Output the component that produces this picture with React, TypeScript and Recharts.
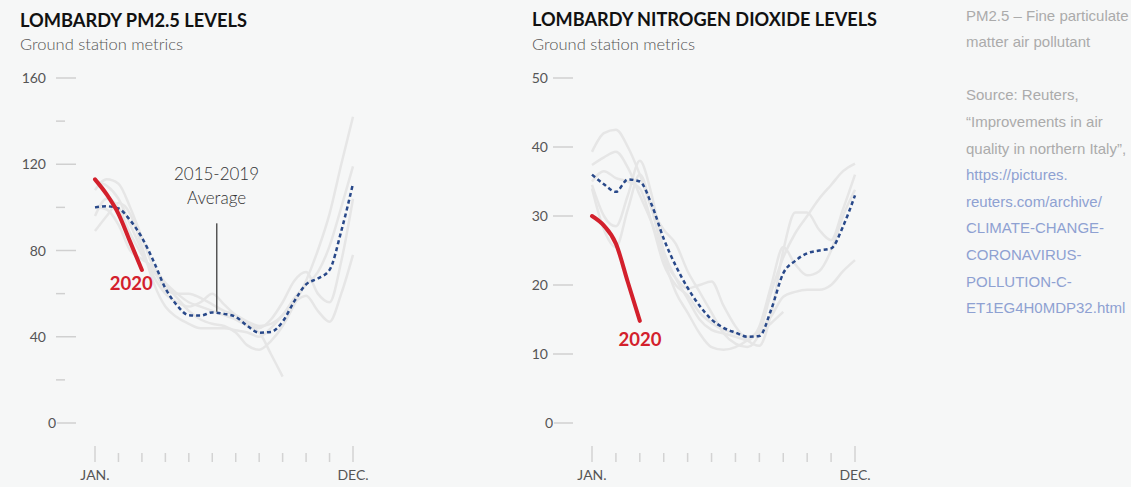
import { LineChart, Line, XAxis, YAxis, ReferenceLine } from "recharts";

// half-month steps, Jan = 0 ... Dec = 11
const STEPS = [0, 0.5, 1, 1.5, 2, 2.5, 3, 3.5, 4, 4.5, 5, 5.5, 6, 6.5, 7, 7.5, 8, 8.5, 9, 9.5, 10, 10.5, 11];
const MONTH_TICKS = [0, 1, 2, 3, 4, 5, 6, 7, 8, 9, 10, 11];
const MONTH_LABELS: Record<number, string> = { 0: "JAN.", 11: "DEC." };

const PM25_TICKS = [0, 20, 40, 60, 80, 100, 120, 140, 160];
const NO2_TICKS = [0, 10, 20, 30, 40, 50];

// PM2.5
const pm25Avg = [100, 100.5, 99.5, 94, 86, 75, 62.5, 54.5, 50, 49.8, 51.3, 50.6, 49.2, 45, 41.9, 42.2, 47, 56.5, 64.3, 67, 71, 89, 111];
const pm25Now = [113, 106, 97, 84, 71];
const pm25Y1 = [96, 104, 100, 88, 78, 70, 64, 58, 52, 48, 46, 45, 42, 36, 34, 38, 45, 55, 66, 80, 97, 120, 142];
const pm25Y2 = [108, 113, 111, 100, 86, 72, 62, 60, 60, 58, 55, 52, 50, 47, 45, 46, 50, 58, 64, 70, 82, 100, 119];
const pm25Y3 = [112, 110, 104, 92, 80, 68, 60, 56, 54, 56, 60, 55, 50, 46, 44, 48, 56, 66, 70, 60, 56, 75, 104];
const pm25Y4 = [89, 96, 102, 97, 82, 65, 54, 49, 46, 44, 44, 44, 43, 42, 40, 44, 50, 56, 59, 52, 47, 60, 78];
const pm25Y5 = [100, 99, 92, 80, 76, 72, 65, 60, 56, 54, 52, 50, 48, 45, 42, 32, 21.5];

// NO2
const no2Avg = [36, 34.6, 33.5, 35.3, 35, 31.6, 26.7, 22.8, 19.6, 17, 15, 13.8, 13.1, 12.5, 12.6, 16.5, 21.7, 23.5, 24.6, 25, 25.3, 28.5, 33];
const no2Now = [30, 28.6, 26, 20.4, 14.8];
const no2Y1 = [39.3, 42, 42.5, 40, 36, 31, 28, 26, 22, 19, 16, 13, 11.5, 11, 13, 19, 24, 27.5, 30, 32.5, 34.5, 36.5, 37.6];
const no2Y2 = [37.4, 38.5, 39.3, 37, 33, 29, 24, 21, 19.5, 20, 20.5, 17, 14, 12, 11.2, 16, 25, 30.5, 30.5, 28, 26.5, 31, 36];
const no2Y3 = [34.5, 30, 28.5, 33, 38, 33, 25, 21, 18, 15, 13.5, 13, 12.5, 12, 14, 20, 25.5, 23, 21.4, 22, 25, 30, 33.8];
const no2Y4 = [34, 28, 25.5, 31, 36, 31, 24, 19, 16, 13, 11, 10.6, 11, 12, 13.5, 15.5, 18.3, 19, 19.3, 19.3, 20, 22, 23.6];
const no2Y5 = [35, 36.5, 35.5, 35, 34, 29, 23, 20, 18.5, 16, 14.5, 13.5, 13, 12.5, 13, 14.5, 16.1];

const NOTES = [
  { text: "PM2.5 – Fine particulate", link: false },
  { text: "matter air pollutant", link: false },
  { text: "", link: false },
  { text: "Source: Reuters,", link: false },
  { text: "“Improvements in air", link: false },
  { text: "quality in northern Italy”,", link: false },
  { text: "https://pictures.", link: true },
  { text: "reuters.com/archive/", link: true },
  { text: "CLIMATE-CHANGE-", link: true },
  { text: "CORONAVIRUS-", link: true },
  { text: "POLLUTION-C-", link: true },
  { text: "ET1EG4H0MDP32.html", link: true },
];

const FONT = "Lato, sans-serif";
const BG = "#f6f7f7";
const GREY_LINE = "#e6e6e6";
const AVG = "#29498a";
const RED = "#d3202c";

function buildRows(series: Record<string, number[]>) {
  return STEPS.map((m, i) => {
    const row: Record<string, number | undefined> = { m };
    Object.entries(series).forEach(([k, arr]) => {
      row[k] = arr[i];
    });
    return row;
  });
}

const XTick = (props: any) => {
  const { x, y, payload } = props;
  const v = payload.value;
  const major = v === 0 || v === 11;
  return (
    <g>
      <line x1={x} x2={x} y1={y + (major ? 23 : 30)} y2={y + 39} stroke="#d3d3d3" strokeWidth={1.5} />
      {MONTH_LABELS[v] && (
        <text x={x} y={y + 57} textAnchor="middle" fontSize={14} fill="#555" fontFamily={FONT}>
          {MONTH_LABELS[v]}
        </text>
      )}
    </g>
  );
};

const makeYTick = (step: number, gap: number) => (props: any) => {
  const { x, y, payload } = props;
  const v = payload.value;
  const labelled = v % step === 0;
  const zero = v === 0;
  return (
    <g>
      <line
        x1={x - (zero ? 38 : 39)}
        x2={labelled ? x - 19 : x - 30}
        y1={y}
        y2={y}
        stroke="#d0d0d0"
        strokeWidth={1.5}
      />
      {labelled && (
        <text
          x={zero ? x - 39 : x - 39 - gap}
          y={y}
          dy={5}
          textAnchor="end"
          fontSize={14}
          fill="#555"
          fontFamily={FONT}
        >
          {v}
        </text>
      )}
    </g>
  );
};

interface PanelProps {
  left: number;
  width: number;
  plotLeft: number;
  plotRight: number;
  rows: any[];
  ticks: number[];
  max: number;
  labelStep: number;
  gap: number;
  children?: any;
}

function Panel({ left, width, plotLeft, plotRight, rows, ticks, max, labelStep, gap, children }: PanelProps) {
  const yw = 60;
  const xh = 40;
  return (
    <div style={{ position: "absolute", left, top: 0 }}>
      <LineChart
        width={width}
        height={487}
        data={rows}
        margin={{ top: 78, right: width - plotRight, bottom: 64 - xh, left: plotLeft - yw }}
      >
        <XAxis
          dataKey="m"
          type="number"
          domain={[0, 11]}
          ticks={MONTH_TICKS}
          interval={0}
          axisLine={false}
          tickLine={false}
          tickSize={0}
          tickMargin={0}
          height={xh}
          tick={<XTick />}
        />
        <YAxis
          type="number"
          domain={[0, max]}
          ticks={ticks}
          interval={0}
          axisLine={false}
          tickLine={false}
          tickSize={0}
          tickMargin={0}
          width={yw}
          tick={makeYTick(labelStep, gap)}
        />
        {["y1", "y2", "y3", "y4", "y5"].map((k) => (
          <Line
            key={k}
            dataKey={k}
            type="monotone"
            stroke={GREY_LINE}
            strokeWidth={2.5}
            dot={false}
            activeDot={false}
            isAnimationActive={false}
          />
        ))}
        {children}
        <Line
          dataKey="avg"
          type="monotone"
          stroke={AVG}
          strokeWidth={2.5}
          strokeDasharray="4 3"
          dot={false}
          activeDot={false}
          isAnimationActive={false}
        />
        <Line
          dataKey="now"
          type="monotone"
          stroke={RED}
          strokeWidth={4}
          strokeLinecap="round"
          dot={false}
          activeDot={false}
          isAnimationActive={false}
        />
      </LineChart>
    </div>
  );
}

export default function App() {
  const pmRows = buildRows({ avg: pm25Avg, now: pm25Now, y1: pm25Y1, y2: pm25Y2, y3: pm25Y3, y4: pm25Y4, y5: pm25Y5 });
  const noRows = buildRows({ avg: no2Avg, now: no2Now, y1: no2Y1, y2: no2Y2, y3: no2Y3, y4: no2Y4, y5: no2Y5 });

  return (
    <div style={{ position: "absolute", left: 0, top: 0, width: 1131, height: 487, background: BG, overflow: "hidden" }}>
      <Panel left={0} width={480} plotLeft={95} plotRight={353} rows={pmRows} ticks={PM25_TICKS} max={160} labelStep={40} gap={10}>
        <ReferenceLine
          segment={[
            { x: 5.19, y: 92.6 },
            { x: 5.19, y: 51.6 },
          ]}
          stroke="#555"
          strokeWidth={1.5}
        />
      </Panel>
      <Panel left={500} width={400} plotLeft={92} plotRight={355} rows={noRows} ticks={NO2_TICKS} max={50} labelStep={10} gap={5} />

      <svg width={1131} height={487} style={{ position: "absolute", left: 0, top: 0, pointerEvents: "none" }}>
        <g fontFamily={FONT}>
          <text x={20} y={26.5} fontSize={18.5} fontWeight={700} fill="#111" textLength={227} lengthAdjust="spacingAndGlyphs">
            LOMBARDY PM2.5 LEVELS
          </text>
          <text x={20} y={50} fontSize={16.5} fontWeight={300} fill="#555">Ground station metrics</text>
          <text x={532} y={26} fontSize={18.5} fontWeight={700} fill="#111" textLength={345} lengthAdjust="spacingAndGlyphs">
            LOMBARDY NITROGEN DIOXIDE LEVELS
          </text>
          <text x={532} y={49.5} fontSize={16.5} fontWeight={300} fill="#555">Ground station metrics</text>

          <text x={216.5} y={180} fontSize={17} fontWeight={300} fill="#333" textAnchor="middle">2015-2019</text>
          <text x={216.5} y={203.5} fontSize={17} fontWeight={300} fill="#333" textAnchor="middle">Average</text>

          <text x={131.3} y={290} fontSize={18.5} fontWeight={700} fill={RED} textAnchor="middle">2020</text>
          <text x={640} y={345.5} fontSize={18.5} fontWeight={700} fill={RED} textAnchor="middle">2020</text>
        </g>
        <g fontFamily="'Liberation Sans', Arial, sans-serif" fontSize={15}>
          {NOTES.map((n, i) =>
            n.text ? (
              <text key={i} x={966} y={20.5 + i * 26.6} fill={n.link ? "#8ea1d2" : "#ababab"}>
                {n.text}
              </text>
            ) : null
          )}
        </g>
      </svg>
    </div>
  );
}
